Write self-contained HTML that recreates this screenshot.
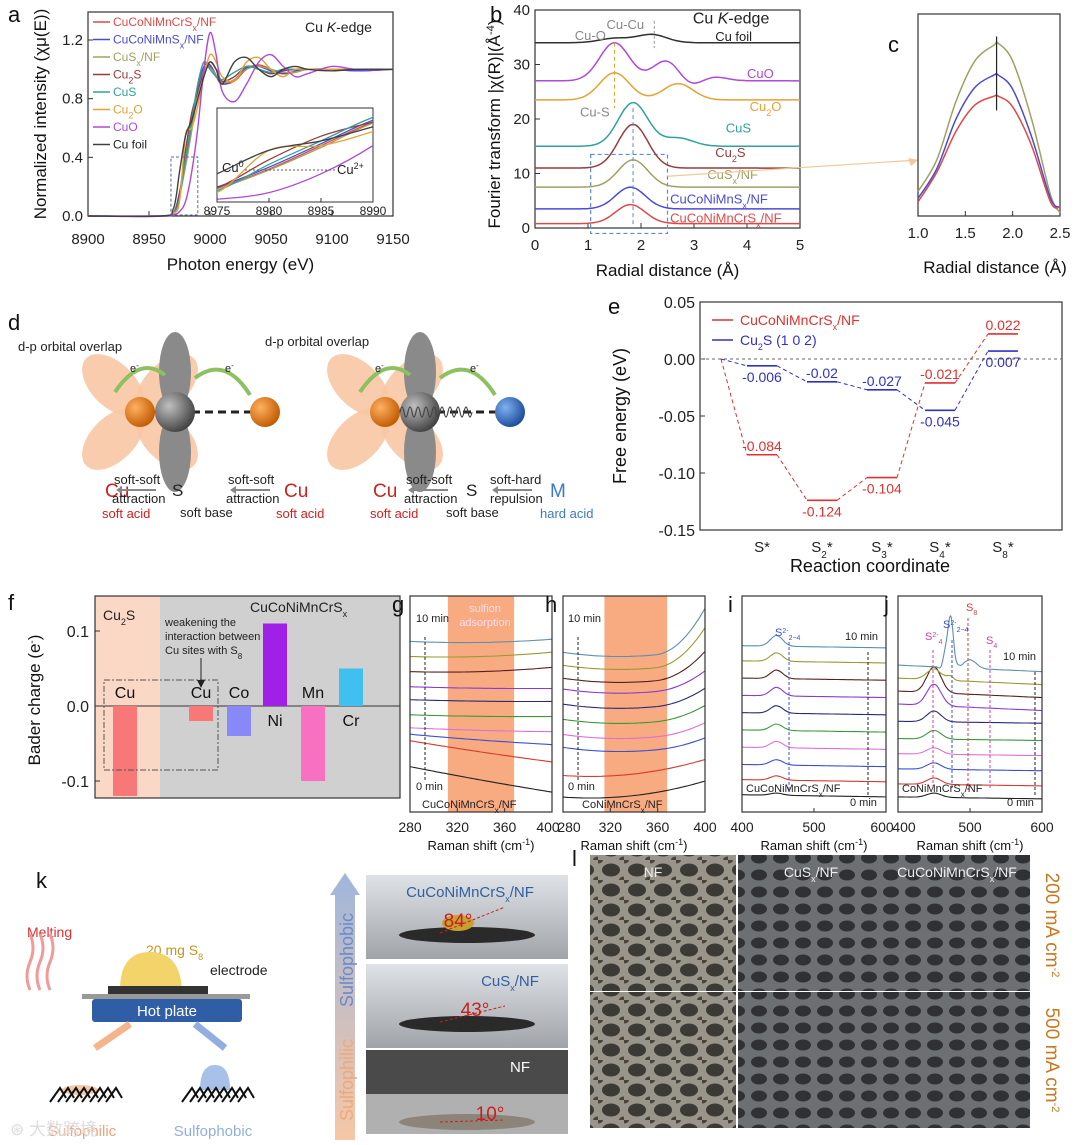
<!DOCTYPE html>
<html><head><meta charset="utf-8">
<style>
html,body{margin:0;padding:0;background:#fff;}
svg{display:block;font-family:"Liberation Sans",Arial,sans-serif;}
</style></head>
<body>
<svg id="fig" width="1080" height="1145" viewBox="0 0 1080 1145" xmlns="http://www.w3.org/2000/svg">
<defs>
<pattern id="foam" width="26" height="20" patternUnits="userSpaceOnUse">
<rect width="26" height="20" fill="#b8b2a4"/>
<ellipse cx="13" cy="10" rx="9" ry="6.5" fill="#3a3830"/>
<ellipse cx="0" cy="0" rx="5" ry="3.5" fill="#4a463a"/>
<ellipse cx="26" cy="20" rx="5" ry="3.5" fill="#4a463a"/>
</pattern>
<pattern id="foam2" width="22" height="17" patternUnits="userSpaceOnUse">
<rect width="22" height="17" fill="#7d8084"/>
<ellipse cx="11" cy="8" rx="8" ry="5.5" fill="#2a2c30"/>
</pattern>
<linearGradient id="photo" x1="0" y1="0" x2="0" y2="1"><stop offset="0" stop-color="#dfe2e6"/><stop offset="1" stop-color="#a0a3a8"/></linearGradient>
<linearGradient id="arrowUp" x1="0" y1="1" x2="0" y2="0"><stop offset="0" stop-color="#f6c7a6"/><stop offset="1" stop-color="#9fb6dc"/></linearGradient>
</defs>
<g id="panelA"></g>
<g id="panelB"></g>
<g id="panelC"></g>
<g id="panelD"></g>
<g id="panelE"></g>
<g id="panelF"></g>
<g id="panelR"></g>
<g id="panelK"></g>
<g id="panelL"></g>
</svg>
<script>
// ---------- data arrays ----------
const aEnergy=[8900,8960,8970,8975,8980,8985,8990,8995,9000,9005,9010,9020,9030,9040,9050,9060,9070,9080,9100,9120,9150];
const aNames=["CuCoNiMnCrSx/NF","CuCoNiMnSx/NF","CuSx/NF","Cu2S","CuS","Cu2O","CuO","Cu foil"];
const aRed=[0,0,0.02,0.15,0.35,0.6,0.85,1.0,1.02,0.95,0.9,0.92,1.0,1.03,1.0,0.97,0.98,1.0,1.0,0.99,1.0];
const aBlue=[0,0,0.02,0.16,0.37,0.62,0.87,1.02,1.03,0.96,0.9,0.93,1.01,1.02,0.99,0.97,0.99,1.0,1.0,0.99,1.0];
const aOlive=[0,0,0.02,0.14,0.34,0.58,0.84,0.99,1.01,0.96,0.91,0.93,1.0,1.02,1.0,0.98,0.98,1.0,1.0,1.0,1.0];
const aCu2S=[0,0,0.02,0.15,0.45,0.7,0.85,0.98,1.05,1.0,0.92,0.95,1.02,1.0,0.97,0.99,1.0,1.0,1.0,1.0,1.0];
const aCuS=[0,0,0.02,0.12,0.4,0.65,0.9,1.05,1.0,0.95,0.93,0.98,1.02,1.0,0.98,1.0,1.0,1.0,1.0,1.0,1.0];
const aCu2O=[0,0,0.02,0.1,0.55,0.6,0.75,0.95,1.1,1.05,0.95,0.92,1.05,1.08,1.0,0.95,1.0,1.0,1.0,1.0,1.0];
const aCuO=[0,0,0.01,0.03,0.1,0.3,0.6,1.0,1.25,1.1,0.85,0.78,0.9,1.05,1.1,1.02,0.95,0.97,1.02,1.0,1.0];
const aFoil=[0,0,0.05,0.3,0.55,0.65,0.8,0.95,1.05,1.0,0.9,1.05,1.08,1.0,0.95,1.0,1.02,1.0,0.99,1.0,1.0];
const aColors=["#e04848","#4a4ad8","#a0a060","#9a3a3a","#30a0a0","#e8a030","#b048d8","#404040"];
const aXTicks=[8900,8950,9000,9050,9100,9150];
const aYTicks=[0.0,0.4,0.8,1.2];

const bNames=["Cu foil","CuO","Cu2O","CuS","Cu2S","CuSx/NF","CuCoNiMnSx/NF","CuCoNiMnCrSx/NF"];
const bBase=[34,27,23.5,15,11,7.5,3.5,0.8];
const bPeakPos=[[2.2,1.5],[1.5,2.55,2.85,3.25],[1.5,2.7],[1.85,2.7],[1.85],[1.85],[1.8],[1.8]];
const bPeakH=[[1.5,0.8],[7,5,-3,1.2],[5,3],[8,1.5],[8],[5],[4],[3.5]];
const bColors=["#303030","#b048d8","#e8a030","#30a0a0","#9a3a3a","#a0a060","#4a4ad8","#e04848"];
const bXTicks=[0,1,2,3,4,5];
const bYTicks=[0,10,20,30,40];

const cR=[1.0,1.2,1.4,1.6,1.8,1.85,2.0,2.2,2.4,2.5];
const cRed=[0.08,0.25,0.48,0.63,0.68,0.68,0.62,0.4,0.08,0.05];
const cBlue=[0.1,0.27,0.55,0.73,0.8,0.8,0.72,0.45,0.1,0.05];
const cOlive=[0.14,0.32,0.65,0.88,0.97,0.98,0.88,0.55,0.12,0.02];
const cXTicks=[1.0,1.5,2.0,2.5];

const eCats=["S*","S2*","S3*","S4*","S8*"];
const eRed=[-0.084,-0.124,-0.104,-0.021,0.022];
const eBlue=[-0.006,-0.02,-0.027,-0.045,0.007];
const eYTicks=[0.05,0.00,-0.05,-0.10,-0.15];

const fLabels=["Cu","Cu","Co","Ni","Mn","Cr"];
const fValues=[-0.12,-0.02,-0.04,0.11,-0.10,0.05];
const fColors=["#f87878","#f87878","#8888f8","#a020e8","#f870c0","#40c0f0"];
const fYTicks=[0.1,0.0,-0.1];

const rColors=["#222","#d83a30","#3a4fd8","#e070d8","#3a9a3a","#2a2a7a","#8a3ad8","#5a2020","#9a9a30","#5a90b0"];
const gLevel=[0.08,0.22,0.3,0.36,0.43,0.5,0.56,0.63,0.7,0.76];
const gSlope=[0.13,0.11,0.06,0.03,0.02,0.02,0.02,0.02,0.02,0.03];
const hLevel=[0.1,0.2,0.28,0.34,0.41,0.48,0.55,0.6,0.66,0.72];
const hRise=[0.0,0.0,0.02,0.03,0.04,0.05,0.06,0.1,0.15,0.18];
const iLevel=[0.08,0.15,0.22,0.3,0.38,0.46,0.54,0.62,0.7,0.77];
const iPeak=[0.01,0.02,0.025,0.03,0.03,0.035,0.04,0.04,0.04,0.05];
const jLevel=[0.07,0.13,0.2,0.27,0.34,0.42,0.5,0.56,0.62,0.68];
const jPeak=[0.02,0.03,0.03,0.03,0.04,0.05,0.1,0.12,0.05,0.0];
const jS8=[0,0,0,0,0,0,0,0,0.02,0.25];

// ---------- helpers ----------
const NS="http://www.w3.org/2000/svg";
function mk(parent,tag,attrs,txt){const e=document.createElementNS(NS,tag);for(const k in attrs)e.setAttribute(k,attrs[k]);if(txt!==undefined)e.textContent=txt;parent.appendChild(e);return e;}
function txt(p,x,y,s,size,fill,anchor,extra){const t=mk(p,"text",Object.assign({x:x,y:y,"font-size":size||14,fill:fill||"#222","text-anchor":anchor||"start"},extra||{}));t.innerHTML=s;return t;}
function smooth(pts){let d="M"+pts[0][0].toFixed(1)+","+pts[0][1].toFixed(1);for(let i=0;i<pts.length-1;i++){const p0=pts[Math.max(i-1,0)],p1=pts[i],p2=pts[i+1],p3=pts[Math.min(i+2,pts.length-1)];const c1x=p1[0]+(p2[0]-p0[0])/6,c1y=p1[1]+(p2[1]-p0[1])/6,c2x=p2[0]-(p3[0]-p1[0])/6,c2y=p2[1]-(p3[1]-p1[1])/6;d+=" C"+c1x.toFixed(1)+","+c1y.toFixed(1)+" "+c2x.toFixed(1)+","+c2y.toFixed(1)+" "+p2[0].toFixed(1)+","+p2[1].toFixed(1);}return d;}
function frame(p,x,y,w,h){const r=mk(p,"rect",{x:x,y:y,width:w,height:h,fill:"none",stroke:"#333","stroke-width":1.2});return r;}
function label(p,s,x,y){const t=txt(p,x,y,s,22,"#111","start");}

// ---------- panel a ----------
(function(){
const g=document.getElementById("panelA");
const X0=88,X1=393,Y0=216,Y1=12;
const xa=e=>X0+(e-8900)/250*(X1-X0);
const ya=v=>Y0-v/1.2*176;
label(g,"a",8,22);
frame(g,X0,Y1,X1-X0,Y0-Y1);
aXTicks.forEach(t=>{mk(g,"line",{x1:xa(t),x2:xa(t),y1:Y0,y2:Y0-5,stroke:"#333"});const l=txt(g,xa(t),Y0+28,t,15,"#222","middle");});
aYTicks.forEach(t=>{mk(g,"line",{x1:X0,x2:X0+5,y1:ya(t),y2:ya(t),stroke:"#333"});const l=txt(g,X0-5,ya(t)+5,t.toFixed(1),15,"#222","end");});
const xt=txt(g,(X0+X1)/2,Y0+54,"Photon energy (eV)",17,"#111","middle");
const yt=txt(g,0,0,"Normalized intensity (χμ(E))",17,"#111","middle",{transform:"translate(46,"+(Y0+Y1)/2+") rotate(-90)"});
const series=[aRed,aBlue,aOlive,aCu2S,aCuS,aCu2O,aCuO,aFoil];
series.forEach((s,i)=>{const p=mk(g,"path",{d:smooth(s.map((v,j)=>[xa(aEnergy[j]),ya(v)])),fill:"none",stroke:aColors[i],"stroke-width":1.4});});
const lg=["CuCoNiMnCrS<tspan baseline-shift='sub' font-size='9'>x</tspan>/NF","CuCoNiMnS<tspan baseline-shift='sub' font-size='9'>x</tspan>/NF","CuS<tspan baseline-shift='sub' font-size='9'>x</tspan>/NF","Cu<tspan baseline-shift='sub' font-size='9'>2</tspan>S","CuS","Cu<tspan baseline-shift='sub' font-size='9'>2</tspan>O","CuO","Cu foil"];
lg.forEach((s,i)=>{const y=26+i*17.5;mk(g,"line",{x1:93,x2:110,y1:y-4,y2:y-4,stroke:aColors[i],"stroke-width":1.5});const t=txt(g,113,y,s,12,aColors[i]==="#404040"?"#222":aColors[i]);});
txt(g,305,32,"Cu <tspan font-style='italic'>K</tspan>-edge",14,"#222");
mk(g,"rect",{x:xa(8968),y:157,width:xa(8990)-xa(8968),height:58,fill:"none",stroke:"#5566aa","stroke-dasharray":"3,2"});
const IX0=217,IX1=373,IY0=202,IY1=108;
const ix=e=>IX0+(e-8975)/15*(IX1-IX0);
const iy=v=>IY0-v*(IY0-IY1)/1.0;
mk(g,"rect",{x:IX0,y:IY1,width:IX1-IX0,height:IY0-IY1,fill:"#fff",stroke:"#333"});
const clip=mk(document.querySelector("defs"),"clipPath",{id:"insetClip"});mk(clip,"rect",{x:IX0,y:IY1,width:IX1-IX0,height:IY0-IY1});
const ig=mk(g,"g",{"clip-path":"url(#insetClip)"});
series.forEach((s,i)=>{const p=mk(ig,"path",{d:smooth(s.map((v,j)=>[ix(aEnergy[j]),iy(v)])),fill:"none",stroke:aColors[i],"stroke-width":1.3});});
[8975,8980,8985,8990].forEach(t=>{mk(g,"line",{x1:ix(t),x2:ix(t),y1:IY0,y2:IY0-4,stroke:"#333"});txt(g,ix(t),IY0+13,t,12,"#222","middle");});
mk(g,"line",{x1:245,x2:335,y1:170,y2:170,stroke:"#555","stroke-dasharray":"2,2"});
txt(g,222,172,"Cu<tspan baseline-shift='super' font-size='9'>0</tspan>",13,"#222");
txt(g,337,174,"Cu<tspan baseline-shift='super' font-size='9'>2+</tspan>",13,"#222");
})();

// ---------- panel b ----------
(function(){
const g=document.getElementById("panelB");
const X0=535,X1=800,Y0=228,Y1=10;
const xb=r=>X0+r/5*(X1-X0);
const yb=v=>Y0-v/40*(Y0-Y1);
label(g,"b",490,22);
frame(g,X0,Y1,X1-X0,Y0-Y1);
bXTicks.forEach(t=>{mk(g,"line",{x1:xb(t),x2:xb(t),y1:Y0,y2:Y0-5,stroke:"#333"});const l=txt(g,xb(t),Y0+22,t,15,"#222","middle");});
bYTicks.forEach(t=>{mk(g,"line",{x1:X0,x2:X0+5,y1:yb(t),y2:yb(t),stroke:"#333"});const l=txt(g,X0-5,yb(t)+5,t,15,"#222","end");});
const xt=txt(g,(X0+X1)/2,Y0+48,"Radial distance (Å)",17,"#111","middle");
const yt=txt(g,0,0,"Fourier transform |χ(R)|(Å<tspan baseline-shift='super' font-size='11'>-4</tspan>)",17,"#111","middle",{transform:"translate(500,"+((Y0+Y1)/2+5)+") rotate(-90)"});
mk(g,"rect",{x:xb(1.05),y:yb(13.5),width:xb(2.5)-xb(1.05),height:yb(-1)-yb(13.5),fill:"none",stroke:"#5a8ad0","stroke-dasharray":"4,3","stroke-width":1.2});
bNames.forEach((n,i)=>{const pts=[];for(let k=0;k<=50;k++){const r=k*0.1;let v=bBase[i];bPeakPos[i].forEach((p,j)=>{v+=bPeakH[i][j]*Math.exp(-((r-p)*(r-p))/(2*0.28*0.28));});pts.push([xb(r),yb(v)]);}const p=mk(g,"path",{d:smooth(pts),fill:"none",stroke:bColors[i],"stroke-width":1.5});});
mk(g,"line",{x1:xb(1.5),x2:xb(1.5),y1:yb(34),y2:yb(22),stroke:"#e8a030","stroke-dasharray":"4,3"});
mk(g,"line",{x1:xb(1.85),x2:xb(1.85),y1:yb(22),y2:yb(0),stroke:"#5a8ad0","stroke-dasharray":"4,3"});
mk(g,"line",{x1:xb(2.25),x2:xb(2.25),y1:yb(38),y2:yb(33),stroke:"#999","stroke-dasharray":"3,2"});
txt(g,xb(0.75),yb(34.5),"Cu-O",13,"#888");txt(g,xb(1.35),yb(36.5),"Cu-Cu",13,"#888");txt(g,xb(0.85),yb(20.5),"Cu-S",13,"#888");
txt(g,xb(3.7),yb(37.5),"Cu <tspan font-style='italic'>K</tspan>-edge",16,"#222","middle");
const labs=[["Cu foil",34.3,"#222",3.4],["CuO",27.5,"#b048d8",4.0],["Cu<tspan baseline-shift='sub' font-size='9'>2</tspan>O",21.5,"#e8a030",4.05],["CuS",17.5,"#30a0a0",3.6],["Cu<tspan baseline-shift='sub' font-size='9'>2</tspan>S",13,"#9a3a3a",3.4],["CuS<tspan baseline-shift='sub' font-size='9'>x</tspan>/NF",9,"#a0a060",3.25],["CuCoNiMnS<tspan baseline-shift='sub' font-size='9'>x</tspan>/NF",4.5,"#4a4ad8",2.55],["CuCoNiMnCrS<tspan baseline-shift='sub' font-size='9'>x</tspan>/NF",1.0,"#e04848",2.55]];
labs.forEach(l=>{const t=txt(g,xb(l[3]),yb(l[1]),l[0],13,l[2]);});
mk(g,"line",{x1:xb(2.5),x2:918,y1:yb(9.5),y2:160,stroke:"#f2c89a","stroke-width":1.2});
mk(g,"polygon",{points:"918,160 908,158 911,166",fill:"#f2c89a"});
})();

// ---------- panel c ----------
(function(){
const g=document.getElementById("panelC");
const X0=918,X1=1060,Y0=216,Y1=14;
const xc=r=>X0+(r-1)/1.5*(X1-X0);
const yc=v=>Y0-v*(Y0-40)/1.0;
label(g,"c",888,52);
frame(g,X0,Y1,X1-X0,Y0-Y1);
cXTicks.forEach(t=>{mk(g,"line",{x1:xc(t),x2:xc(t),y1:Y0,y2:Y0-5,stroke:"#333"});const l=txt(g,xc(t),Y0+22,t.toFixed(1),15,"#222","middle");});
const xt=txt(g,(X0+X1)/2+6,Y0+57,"Radial distance (Å)",17,"#111","middle");
[[cOlive,"#a0a060"],[cBlue,"#4a4ad8"],[cRed,"#e04848"]].forEach((s,i)=>{const p=mk(g,"path",{d:smooth(s[0].map((v,j)=>[xc(cR[j]),yc(v)])),fill:"none",stroke:s[1],"stroke-width":1.5});});
mk(g,"line",{x1:xc(1.83),x2:xc(1.83),y1:yc(1.02),y2:yc(0.6),stroke:"#222","stroke-width":1.2});
})();

// ---------- panel d ----------
(function(){
const g=document.getElementById("panelD");
label(g,"d",8,330);
function lobes(cx,cy,ang,col){[0,90,180,270].forEach(a=>{mk(g,"ellipse",{cx:cx,cy:cy-38,rx:22,ry:38,fill:col,transform:"rotate("+(a+ang)+" "+cx+" "+cy+")",opacity:0.9});});}
function ball(cx,cy,r,c1,c2){const id="bg"+cx;const gr=mk(document.querySelector("defs"),"radialGradient",{id:id,cx:"0.35",cy:"0.35",r:"0.7"});mk(gr,"stop",{offset:"0","stop-color":c1});mk(gr,"stop",{offset:"1","stop-color":c2});mk(g,"circle",{cx:cx,cy:cy,r:r,fill:"url(#"+id+")"});}
function diag(ox,mcolA,mcolB){
  lobes(ox+140,412,45,"#f7c6a4");
  mk(g,"ellipse",{cx:ox+175,cy:372,rx:16,ry:40,fill:"#8a8a8a"});mk(g,"ellipse",{cx:ox+175,cy:452,rx:16,ry:40,fill:"#8a8a8a"});
  mk(g,"line",{x1:ox+140,x2:ox+260,y1:412,y2:412,stroke:"#222","stroke-width":3,"stroke-dasharray":"8,5"});
  ball(ox+140,412,15,"#ffb060","#c05a00");ball(ox+175,412,20,"#c0c0c0","#404040");ball(ox+265,412,15,mcolA,mcolB);
  mk(g,"path",{d:"M"+(ox+115)+",392 Q"+(ox+140)+",355 "+(ox+165)+",375",fill:"none",stroke:"#8cc060","stroke-width":4});
  mk(g,"path",{d:"M"+(ox+195)+",378 Q"+(ox+225)+",355 "+(ox+250)+",395",fill:"none",stroke:"#8cc060","stroke-width":4});
  txt(g,ox+130,372,"e<tspan baseline-shift='super' font-size='8'>-</tspan>",11,"#222");txt(g,ox+225,372,"e<tspan baseline-shift='super' font-size='8'>-</tspan>",11,"#222");
}
diag(0,"#ffb060","#c05a00");
diag(245,"#80b0f0","#1a4a9a");
txt(g,18,351,"d-p orbital overlap",13,"#222");txt(g,265,346,"d-p orbital overlap",13,"#222");
function arrow(x,y){mk(g,"line",{x1:x,x2:x+34,y1:y,y2:y,stroke:"#888","stroke-width":2});mk(g,"polygon",{points:x+","+(y-4)+" "+(x-6)+","+y+" "+x+","+(y+4),fill:"#888"});}
// left diagram
txt(g,105,497,"Cu",19,"#d02020");txt(g,102,518,"soft acid",13,"#d02020");
txt(g,114,484,"soft-soft",13,"#222");arrow(122,490);txt(g,112,503,"attraction",13,"#222");
txt(g,172,496,"S",17,"#222");txt(g,180,517,"soft base",13,"#222","start");
txt(g,228,484,"soft-soft",13,"#222");arrow(236,490);txt(g,226,503,"attraction",13,"#222");
txt(g,284,497,"Cu",19,"#d02020");txt(g,276,518,"soft acid",13,"#d02020");
// right diagram
txt(g,373,497,"Cu",19,"#d02020");txt(g,370,518,"soft acid",13,"#d02020");
txt(g,406,484,"soft-soft",13,"#222");arrow(414,490);txt(g,404,503,"attraction",13,"#222");
txt(g,466,496,"S",17,"#222");txt(g,446,517,"soft base",13,"#222");
txt(g,490,484,"soft-hard",13,"#222");arrow(498,490);txt(g,490,503,"repulsion",13,"#222");
txt(g,550,497,"M",19,"#3a7ac8");txt(g,540,518,"hard acid",13,"#3a7ac8");
let d="M400,412";for(let i=0;i<9;i++){d+=" q2,-10 4,0 q2,10 4,0";}mk(g,"path",{d:d,fill:"none",stroke:"#444","stroke-width":1.2});
})();

// ---------- panel e ----------
(function(){
const g=document.getElementById("panelE");
const X0=700,X1=1062,Y0=530,Y1=302;
const ye=v=>359-v/0.05*57;
const xe=i=>[762,822,882,940,1003][i];
const xStart=721;
label(g,"e",608,314);
frame(g,X0,Y1,X1-X0,Y0-Y1);
eYTicks.forEach(t=>{mk(g,"line",{x1:X0,x2:X0+5,y1:ye(t),y2:ye(t),stroke:"#333"});const l=txt(g,X0-5,ye(t)+6,t.toFixed(2),16,"#222","end");});
mk(g,"line",{x1:X0,x2:X1,y1:ye(0),y2:ye(0),stroke:"#666","stroke-dasharray":"3,3"});
const cl=["S*","S<tspan baseline-shift='sub' font-size='10'>2</tspan>*","S<tspan baseline-shift='sub' font-size='10'>3</tspan>*","S<tspan baseline-shift='sub' font-size='10'>4</tspan>*","S<tspan baseline-shift='sub' font-size='10'>8</tspan>*"];
eCats.forEach((c,i)=>{const l=txt(g,xe(i),Y0+22,cl[i],15,"#222","middle");});
const xt=txt(g,870,Y0+42,"Reaction coordinate",18,"#111","middle");
const yt=txt(g,0,0,"Free energy (eV)",18,"#111","middle",{transform:"translate(626,"+(Y0+Y1)/2+") rotate(-90)"});
function series(vals,col,name,above){
  let px=xStart,py=ye(0);
  vals.forEach((v,i)=>{const x0=xe(i)-15,x1=xe(i)+15,y=ye(v);
    const c=mk(g,"line",{x1:px,y1:py,x2:x0,y2:y,stroke:col,"stroke-dasharray":"4,3","stroke-width":1});
    const l=mk(g,"line",{x1:x0,x2:x1,y1:y,y2:y,stroke:col,"stroke-width":1.6});
    const ab=above[i];const t=txt(g,xe(i),ab?y-4:y+16,String(v),14,col,"middle");
    px=x1;py=y;});
}
series(eRed,"#e03030","red-series",[true,false,false,true,true]);
series(eBlue,"#3030c8","blue-series",[false,true,true,false,false]);
mk(g,"line",{x1:712,x2:733,y1:320,y2:320,stroke:"#e03030","stroke-width":1.5});
txt(g,740,325,"CuCoNiMnCrS<tspan baseline-shift='sub' font-size='9'>x</tspan>/NF",14,"#e03030");
mk(g,"line",{x1:712,x2:733,y1:340,y2:340,stroke:"#3030c8","stroke-width":1.5});
txt(g,740,345,"Cu<tspan baseline-shift='sub' font-size='9'>2</tspan>S (1 0 2)",14,"#3030c8");
})();

// ---------- panel f ----------
(function(){
const g=document.getElementById("panelF");
const X0=95,X1=400,Y0=798,Y1=596;
const yf=v=>706-v/0.1*75;
const xs=[125,201,239,275,313,351];
label(g,"f",8,610);
mk(g,"rect",{x:X0,y:Y1,width:65,height:Y0-Y1,fill:"#fbd7c5"});
mk(g,"rect",{x:160,y:Y1,width:X1-160,height:Y0-Y1,fill:"#d0d0d0"});
frame(g,X0,Y1,X1-X0,Y0-Y1);
mk(g,"line",{x1:X0,x2:X1,y1:yf(0),y2:yf(0),stroke:"#333","stroke-width":1});
fYTicks.forEach(t=>{mk(g,"line",{x1:X0,x2:X0+5,y1:yf(t),y2:yf(t),stroke:"#333"});const l=txt(g,X0-6,yf(t)+6,t.toFixed(1),16,"#222","end");});
const yt=txt(g,0,0,"Bader charge (e<tspan baseline-shift='super' font-size='10'>-</tspan>)",17,"#111","middle",{transform:"translate(40,700) rotate(-90)"});
fValues.forEach((v,i)=>{const y=Math.min(yf(0),yf(v));const b=mk(g,"rect",{x:xs[i]-12,y:y,width:24,height:Math.abs(yf(v)-yf(0)),fill:fColors[i]});
  const l=txt(g,xs[i],v<0?yf(0)-8:yf(0)+20,fLabels[i],16,"#111","middle");});
mk(g,"rect",{x:104,y:680,width:114,height:90,fill:"none",stroke:"#555","stroke-dasharray":"6,2,2,2"});
txt(g,103,620,"Cu<tspan baseline-shift='sub' font-size='9'>2</tspan>S",14,"#222");
txt(g,250,612,"CuCoNiMnCrS<tspan baseline-shift='sub' font-size='9'>x</tspan>",14,"#222");
txt(g,165,626,"weakening the",11,"#222");txt(g,165,640,"interaction between",11,"#222");txt(g,165,654,"Cu sites with S<tspan baseline-shift='sub' font-size='8'>8</tspan>",11,"#222");
mk(g,"line",{x1:201,x2:201,y1:658,y2:684,stroke:"#222"});mk(g,"polygon",{points:"197,680 205,680 201,688",fill:"#222"});
})();

// ---------- raman panels ----------
(function(){
const g=document.getElementById("panelR");
const panels=[{l:"g",x0:410,x1:552,ticks:[280,320,360,400],lo:280,hi:400},{l:"h",x0:563,x1:705,ticks:[280,320,360,400],lo:280,hi:400},{l:"i",x0:742,x1:886,ticks:[400,500,600],lo:400,hi:600},{l:"j",x0:898,x1:1042,ticks:[400,500,600],lo:400,hi:600}];
const Y0=812,Y1=596,H=Y0-Y1;
panels.forEach((p,pi)=>{
  const xr=v=>p.x0+(v-p.lo)/(p.hi-p.lo)*(p.x1-p.x0);
  label(g,p.l,p.x0-18+(pi>=2?4:0),612);
  if(pi<2){mk(g,"rect",{x:xr(pi==0?312:315),y:Y1,width:xr(368)-xr(pi==0?312:315),height:H,fill:"#f8aa80"});}
  const cp=mk(document.querySelector("defs"),"clipPath",{id:"rc"+pi});mk(cp,"rect",{x:p.x0,y:Y1,width:p.x1-p.x0,height:H});
  const lg=mk(g,"g",{"clip-path":"url(#rc"+pi+")"});
  p.ticks.forEach(t=>{mk(g,"line",{x1:xr(t),x2:xr(t),y1:Y0,y2:Y0-4,stroke:"#333"});const l=txt(g,xr(t)+(pi%2==1&&t==p.lo?6:0)-(pi%2==0&&t==p.hi&&pi<3?4:0),Y0+20,t,14,"#222","middle");});
  const xt=txt(g,(p.x0+p.x1)/2,Y0+38,"Raman shift (cm<tspan baseline-shift='super' font-size='9'>-1</tspan>)",13,"#111","middle");
  for(let k=0;k<10;k++){const pts=[];const n=30;for(let s=0;s<=n;s++){const v=p.lo+(p.hi-p.lo)*s/n;const u=s/n;let yv;
    if(pi==0){yv=gLevel[k]+gSlope[k]*(1-u)+0.04*u*u*(k>6?1:0.3);}
    else if(pi==1){yv=hLevel[k]+0.03*Math.pow((u-0.4),2)*4+hRise[k]*Math.pow(Math.max(0,u-0.65)/0.35,2)-0.05*(1-u)*(k<2?1:0);}
    else if(pi==2){yv=iLevel[k]+iPeak[k]*Math.exp(-Math.pow((v-448)/12,2))-0.01*u;}
    else{yv=jLevel[k]+jPeak[k]*Math.exp(-Math.pow((v-450)/14,2))+jS8[k]*Math.exp(-Math.pow((v-472)/6,2))+(k==9?0.04*Math.exp(-Math.pow((v-500)/12,2)):0)-0.03*u*(k>5?1:0.3);}
    pts.push([xr(v),Y0-yv*H]);}
    const pa=mk(lg,"path",{d:smooth(pts),fill:"none",stroke:rColors[k],"stroke-width":1.1});}
  frame(g,p.x0,Y1,p.x1-p.x0,H);
});
txt(g,416,622,"10 min",11,"#222");txt(g,416,790,"0 min",11,"#222");mk(g,"line",{x1:425,x2:425,y1:780,y2:636,stroke:"#222","stroke-dasharray":"3,2"});
txt(g,485,612,"sulfion",11,"#fde","middle");txt(g,485,626,"adsorption",11,"#fde","middle");
txt(g,568,622,"10 min",11,"#222");txt(g,568,790,"0 min",11,"#222");mk(g,"line",{x1:578,x2:578,y1:780,y2:636,stroke:"#222","stroke-dasharray":"3,2"});
txt(g,422,808,"CuCoNiMnCrS<tspan baseline-shift='sub' font-size='8'>x</tspan>/NF",11,"#222");
txt(g,582,808,"CoNiMnCrS<tspan baseline-shift='sub' font-size='8'>x</tspan>/NF",11,"#222");
txt(g,746,792,"CuCoNiMnCrS<tspan baseline-shift='sub' font-size='8'>x</tspan>/NF",11,"#222");
txt(g,902,792,"CoNiMnCrS<tspan baseline-shift='sub' font-size='8'>x</tspan>/NF",11,"#222");
txt(g,845,640,"10 min",11,"#222");txt(g,850,806,"0 min",11,"#222");mk(g,"line",{x1:868,x2:868,y1:795,y2:652,stroke:"#222","stroke-dasharray":"3,2"});
txt(g,1003,660,"10 min",11,"#222");txt(g,1007,806,"0 min",11,"#222");mk(g,"line",{x1:1035,x2:1035,y1:795,y2:672,stroke:"#222","stroke-dasharray":"3,2"});
txt(g,775,636,"S<tspan baseline-shift='super' font-size='7'>2-</tspan><tspan baseline-shift='sub' font-size='7'>2−4</tspan>",11,"#3a4fd8");
mk(g,"line",{x1:789,x2:789,y1:642,y2:790,stroke:"#3a4fd8","stroke-dasharray":"3,2"});
txt(g,925,640,"S<tspan baseline-shift='super' font-size='7'>2-</tspan><tspan baseline-shift='sub' font-size='7'>4</tspan>",11,"#d040a0");
txt(g,943,628,"S<tspan baseline-shift='super' font-size='7'>2-</tspan><tspan baseline-shift='sub' font-size='7'>2−4</tspan>",11,"#3a4fd8");
txt(g,966,611,"S<tspan baseline-shift='sub' font-size='7'>8</tspan>",11,"#d04040");
txt(g,986,644,"S<tspan baseline-shift='sub' font-size='7'>4</tspan>",11,"#d040a0");
mk(g,"line",{x1:933,x2:933,y1:650,y2:790,stroke:"#d040a0","stroke-dasharray":"3,2"});
mk(g,"line",{x1:952,x2:952,y1:640,y2:790,stroke:"#3a4fd8","stroke-dasharray":"3,2"});
mk(g,"line",{x1:968,x2:968,y1:618,y2:790,stroke:"#d04040","stroke-dasharray":"3,2"});
mk(g,"line",{x1:990,x2:990,y1:650,y2:790,stroke:"#d040a0","stroke-dasharray":"3,2"});
})();

// ---------- panel k ----------
(function(){
const g=document.getElementById("panelK");
label(g,"k",36,888);
txt(g,27,937,"Melting",14,"#e03030");
["M30,990 q-6,-14 0,-28 q6,-14 0,-28","M40,990 q-6,-14 0,-28 q6,-14 0,-28","M50,990 q-6,-14 0,-28 q6,-14 0,-28"].forEach(d=>mk(g,"path",{d:d,fill:"none",stroke:"#f09a9a","stroke-width":3}));
txt(g,146,955,"20 mg S<tspan baseline-shift='sub' font-size='9'>8</tspan>",14,"#c8961e");
mk(g,"path",{d:"M120,990 Q120,952 150,952 Q180,952 182,990 Z",fill:"#f2d46a"});
mk(g,"rect",{x:108,y:986,width:100,height:8,fill:"#333"});
txt(g,210,975,"electrode",14,"#222");
mk(g,"rect",{x:82,y:994,width:168,height:5,fill:"#999"});
const hp=mk(g,"rect",{x:92,y:999,width:150,height:23,rx:3,fill:"#2f5da6"});
txt(g,167,1016,"Hot plate",15,"#fff","middle");
mk(g,"path",{d:"M130,1024 L95,1048",stroke:"#f6b48a","stroke-width":7});
mk(g,"path",{d:"M195,1024 L225,1048",stroke:"#92aee0","stroke-width":7});
mk(g,"ellipse",{cx:80,cy:1090,rx:18,ry:5,fill:"#f6c7a6"});
mk(g,"path",{d:"M200,1090 Q200,1065 215,1065 Q230,1065 230,1090 Z",fill:"#a9c0e8"});
[[50,1090],[182,1090]].forEach(p=>{for(let i=0;i<8;i++){mk(g,"path",{d:"M"+(p[0]+i*8)+","+(p[1]+12)+" l10,-14 l6,10",fill:"none",stroke:"#111","stroke-width":2});}});
txt(g,82,1136,"Sulfophilic",15,"#f2a07a","middle");txt(g,213,1136,"Sulfophobic",15,"#92aee0","middle");
mk(g,"polygon",{points:"330,895 345,873 360,895 355,895 355,1140 335,1140 335,895",fill:"url(#arrowUp)"});
txt(g,0,0,"Sulfophobic",18,"#6a8ac8","middle",{transform:"translate(353,960) rotate(-90)"});
txt(g,0,0,"Sulfophilic",18,"#f0a878","middle",{transform:"translate(353,1080) rotate(-90)"});
[[875,"CuCoNiMnCrS<tspan baseline-shift='sub' font-size='9'>x</tspan>/NF","84°"],[964,"CuS<tspan baseline-shift='sub' font-size='9'>x</tspan>/NF","43°"],[1050,"NF","10°"]].forEach((r,i)=>{
  const ph=mk(g,"rect",{x:366,y:r[0],width:202,height:84,fill:i==2?"#4a4a4a":"url(#photo)"});
  if(i==2)mk(g,"rect",{x:366,y:r[0]+44,width:202,height:40,fill:"#b0b0b0"});
  mk(g,"ellipse",{cx:467,cy:r[0]+(i==2?72:60),rx:68,ry:8,fill:i==2?"#8c8478":"#2a2a2a"});
  if(i==0)mk(g,"ellipse",{cx:458,cy:r[0]+48,rx:16,ry:8,fill:"#c8a030"});
  txt(g,i==0?470:(i==1?510:520),r[0]+22,r[1],15,i==2?"#fff":"#3060a0","middle");
  txt(g,i==0?458:(i==1?475:490),r[0]+(i==2?70:52),r[2],19,"#c82020","middle");
  mk(g,"line",{x1:440,y1:r[0]+(i==2?72:58),x2:505,y2:r[0]+(i==2?70:(i==0?32:42)),stroke:"#c82020","stroke-dasharray":"3,2"});
});
txt(g,10,1135,"⊛ 大数跨境",17,"#ddd","start",{"font-family":"Liberation Sans,Noto Sans CJK SC,sans-serif"});
})();

// ---------- panel l ----------
(function(){
const g=document.getElementById("panelL");
label(g,"l",572,866);
const cols=[590,738,884],w=146,rows=[855,992],h=136;
const names=["NF","CuS<tspan baseline-shift='sub' font-size='9'>x</tspan>/NF","CuCoNiMnCrS<tspan baseline-shift='sub' font-size='9'>x</tspan>/NF"];
rows.forEach((y,ri)=>cols.forEach((x,ci)=>{const r=mk(g,"rect",{x:x,y:y,width:w,height:h,fill:ci==0?"url(#foam)":"url(#foam2)"});
  mk(g,"rect",{x:x,y:y,width:w,height:h,fill:"#404040",opacity:0.25});
  if(ri==0)txt(g,x+w/2+(ci==0?-10:0),y+22,names[ci],14,"#eee","middle");}));
txt(g,0,0,"200 mA cm<tspan baseline-shift='super' font-size='11'>-2</tspan>",19,"#c87820","middle",{transform:"translate(1046,925) rotate(90)"});
txt(g,0,0,"500 mA cm<tspan baseline-shift='super' font-size='11'>-2</tspan>",19,"#c87820","middle",{transform:"translate(1046,1060) rotate(90)"});
})();
</script>
</body></html>
